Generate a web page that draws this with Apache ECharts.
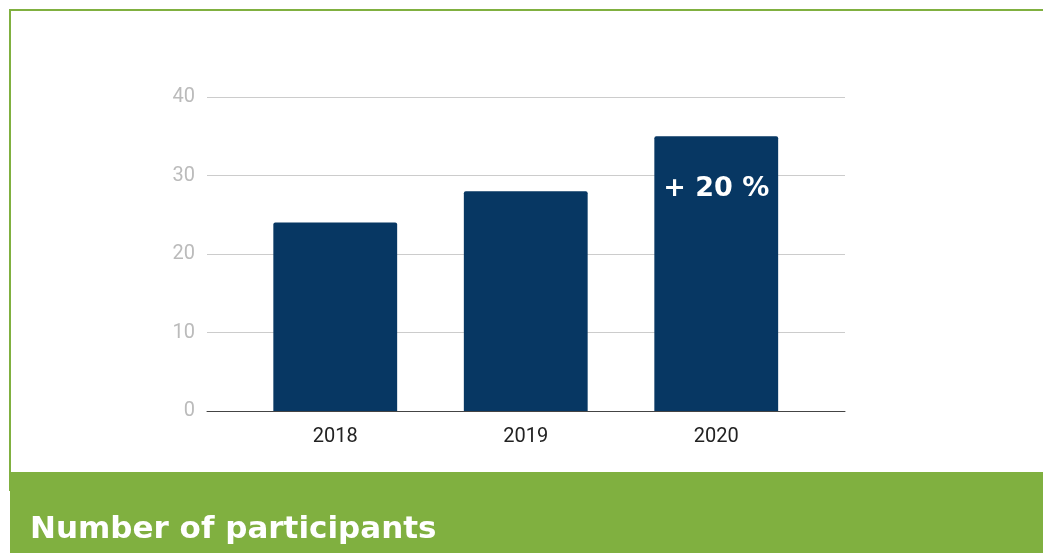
<!DOCTYPE html>
<html>
<head>
<meta charset="utf-8">
<style>
  html, body { margin: 0; padding: 0; background: #fff; }
  #chart { width: 1043px; height: 553px; }
</style>
<script src="https://cdn.jsdelivr.net/npm/echarts@6/dist/echarts.min.js"></script>
</head>
<body>
<div id="chart"></div>
<script>
  // chart data
  const years = ['2018', '2019', '2020'];
  const participants = [24, 28, 35];
  const barNotes = ['', '', '+ 20 %'];
  const yTicks = [0, 10, 20, 30, 40];
  const chartTitle = 'Number of participants';

  const green = '#80b040';
  const navy = '#073763';

  const chart = echarts.init(document.getElementById('chart'));
  window.addEventListener('resize', function () {
    chart.resize();
  });

  const option = {
    backgroundColor: '#fff',
    animation: false,
    grid: [
      // wide grid: gridlines + baseline
      { left: 207, right: 198, top: 97, bottom: 142, containLabel: false, outerBoundsMode: 'none' },
      // narrower grid holding the bars
      { left: 240, right: 231.5, top: 97, bottom: 142, containLabel: false, outerBoundsMode: 'none' }
    ],
    xAxis: [
      {
        type: 'value',
        gridIndex: 0,
        min: 0,
        max: 1,
        axisLine: { show: true, lineStyle: { color: '#444', width: 1 } },
        axisTick: { show: false },
        axisLabel: { show: false },
        splitLine: { show: false }
      },
      {
        type: 'category',
        gridIndex: 1,
        data: years,
        axisLine: { show: false },
        axisTick: { show: false },
        axisLabel: {
          color: '#222',
          fontFamily: 'Roboto',
          fontSize: 20,
          margin: 16
        },
        splitLine: { show: false }
      }
    ],
    yAxis: [
      {
        type: 'value',
        gridIndex: 0,
        min: yTicks[0],
        max: yTicks[yTicks.length - 1],
        interval: 10,
        axisLine: { show: false },
        axisTick: { show: false },
        axisLabel: {
          color: '#bbb',
          fontFamily: 'Roboto',
          fontSize: 20,
          margin: 12
        },
        splitLine: { show: true, lineStyle: { color: '#ccc', width: 1 } }
      },
      {
        type: 'value',
        gridIndex: 1,
        min: yTicks[0],
        max: yTicks[yTicks.length - 1],
        interval: 10,
        show: false,
        splitLine: { show: false }
      }
    ],
    series: [
      {
        type: 'bar',
        xAxisIndex: 1,
        yAxisIndex: 1,
        barWidth: '65%',
        itemStyle: { color: navy, borderRadius: [2, 2, 0, 0] },
        data: participants.map(function (v, i) {
          return {
            value: v,
            label: {
              show: barNotes[i] !== '',
              formatter: barNotes[i],
              position: 'insideTop',
              distance: 39,
              color: '#fff',
              fontFamily: 'DejaVu Sans',
              fontWeight: 'bold',
              fontSize: 27
            }
          };
        })
      }
    ],
    graphic: [
      {
        type: 'rect',
        shape: { x: 10, y: 10, width: 1100, height: 480 },
        style: { fill: 'none', stroke: green, lineWidth: 2 },
        silent: true
      },
      {
        type: 'rect',
        shape: { x: 10, y: 472, width: 1040, height: 90 },
        style: { fill: green },
        silent: true
      },
      {
        type: 'text',
        x: 30,
        y: 530,
        style: {
          text: chartTitle,
          fill: '#fff',
          font: 'bold 31px "DejaVu Sans"',
          textVerticalAlign: 'middle'
        },
        silent: true
      }
    ]
  };

  chart.setOption(option);
</script>
</body>
</html>
